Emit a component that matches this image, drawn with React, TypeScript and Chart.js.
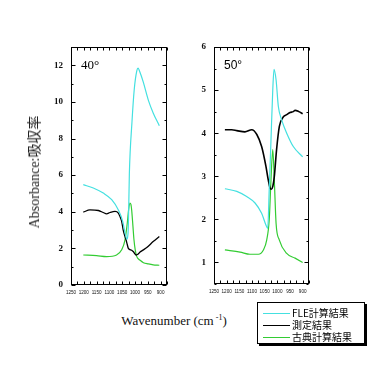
import React, { useEffect, useRef } from "react";
import Chart from "chart.js/auto";

// ---- tick labels ----
const xTickValues = [1250, 1200, 1150, 1100, 1050, 1000, 950, 900];
const leftYTicks = [0, 2, 4, 6, 8, 10, 12];
const rightYTicks = [1, 2, 3, 4, 5, 6];

// ---- series names ----
const seriesNames = ["FLE計算結果", "測定結果", "古典計算結果"];
const panelTitles = ["40°", "50°"];

// ---- 40° panel ----
const leftFleX = [1202, 1163, 1124, 1091, 1065, 1048, 1039, 1032, 1029, 1026, 1022, 1012, 1003, 993, 988, 984, 975, 967, 948, 929, 905];
const leftFleY = [5.48, 5.3, 5.02, 4.66, 4.1, 3.47, 2.85, 2.5, 2.6, 3.2, 6.1, 8.86, 10.68, 11.7, 11.85, 11.75, 11.4, 11.05, 10.1, 9.4, 8.7];
const leftMeasX = [1202, 1176, 1143, 1124, 1111, 1098, 1078, 1065, 1059, 1052, 1046, 1039, 1035, 1030, 1026, 1013, 1007, 995, 987, 980, 967, 954, 929, 905];
const leftMeasY = [3.98, 4.1, 4.07, 3.96, 3.89, 3.96, 4.02, 3.93, 3.75, 3.47, 3.0, 2.65, 2.47, 2.2, 2.0, 1.9, 1.83, 1.64, 1.7, 1.8, 1.92, 2.05, 2.37, 2.65];
const leftClassX = [1202, 1150, 1111, 1072, 1052, 1039, 1030, 1025, 1020, 1016, 1013, 1008, 1004, 999, 993, 980, 967, 948, 929, 905];
const leftClassY = [1.64, 1.6, 1.55, 1.64, 1.92, 2.47, 3.4, 4.1, 4.48, 4.4, 4.1, 3.2, 2.47, 1.9, 1.55, 1.35, 1.22, 1.15, 1.1, 1.08];

// ---- 50° panel ----
const rightFleX = [1207, 1160, 1121, 1088, 1062, 1045, 1038, 1032, 1025, 1018, 1013, 1005, 996, 983, 963, 937, 900];
const rightFleY = [2.71, 2.65, 2.53, 2.38, 2.14, 1.87, 1.79, 2.69, 3.85, 5.01, 5.48, 5.24, 4.62, 4.31, 4.0, 3.69, 3.45];
const rightMeasX = [1207, 1180, 1160, 1128, 1101, 1081, 1062, 1045, 1036, 1029, 1024, 1018, 1012, 1003, 992, 976, 963, 950, 937, 930, 915, 900];
const rightMeasY = [4.08, 4.08, 4.06, 4.03, 4.08, 3.97, 3.69, 3.23, 2.92, 2.73, 2.7, 2.76, 2.99, 3.62, 4.16, 4.38, 4.43, 4.48, 4.5, 4.53, 4.5, 4.45];
const rightClassX = [1207, 1147, 1108, 1075, 1055, 1042, 1032, 1025, 1018, 1012, 1005, 992, 963, 930, 900];
const rightClassY = [1.29, 1.24, 1.19, 1.19, 1.29, 1.52, 1.99, 2.92, 3.62, 2.92, 1.91, 1.52, 1.21, 1.1, 1.0];

const COLORS = ["#44e0e0", "#000000", "#33cc33"];

const zip = (xs: number[], ys: number[]) => xs.map((x, i) => ({ x, y: ys[i] }));

type PanelCfg = {
  series: { x: number[]; y: number[] }[];
  yMin: number;
  yMax: number;
  yTicks: number[];
  yMinorStep: number;
  title: string;
  titleFont: string;
  padding: { top: number; right: number; left: number; bottom: number };
  yWidth: number;
  xHeight: number;
  blackWidth: number;
};

function makeFramePlugin(cfg: PanelCfg) {
  return {
    id: "frameTicks",
    afterDraw(chart: any) {
      const { ctx, chartArea: a } = chart;
      const xs = chart.scales.x;
      const ys = chart.scales.y;
      ctx.save();
      ctx.strokeStyle = "#000";
      ctx.lineWidth = 1;
      const L = Math.round(a.left) + 0.5;
      const R = Math.round(a.right) - 0.5;
      const T = Math.round(a.top) + 0.5;
      const B = Math.round(a.bottom) - 0.5;
      ctx.strokeRect(L, T, R - L, B - T);
      ctx.beginPath();
      for (let v = 875; v <= 1250; v += 25) {
        const p = Math.round(xs.getPixelForValue(v)) + 0.5;
        const len = 3;
        ctx.moveTo(p, B);
        ctx.lineTo(p, B - len);
        ctx.moveTo(p, T);
        ctx.lineTo(p, T + len);
      }
      for (let v = cfg.yMin; v <= cfg.yMax + 1e-6; v += cfg.yMinorStep) {
        const p = Math.round(ys.getPixelForValue(v)) + 0.5;
        const major = cfg.yTicks.some((t) => Math.abs(t - v) < 1e-6);
        const len = major ? 4 : 2;
        ctx.moveTo(L, p);
        ctx.lineTo(L + len, p);
        ctx.moveTo(R, p);
        ctx.lineTo(R - len, p);
      }
      ctx.stroke();
      ctx.fillStyle = "#000";
      ctx.font = cfg.titleFont;
      ctx.textBaseline = "alphabetic";
      ctx.fillText(cfg.title, a.left + 10, a.top + 22);
      ctx.restore();
    },
  };
}

function Panel({ cfg, style }: { cfg: PanelCfg; style: React.CSSProperties }) {
  const ref = useRef<HTMLCanvasElement | null>(null);
  useEffect(() => {
    if (!ref.current) return;
    const chart = new Chart(ref.current, {
      type: "line",
      data: {
        datasets: cfg.series.map((s, i) => ({
          label: seriesNames[i],
          data: zip(s.x, s.y),
          borderColor: COLORS[i],
          borderWidth: i === 1 ? cfg.blackWidth : 1.2,
          pointRadius: 0,
          fill: false,
          cubicInterpolationMode: "monotone" as const,
        })),
      },
      options: {
        animation: false,
        responsive: false,
        events: [],
        layout: { padding: cfg.padding },
        plugins: { legend: { display: false }, tooltip: { enabled: false } },
        scales: {
          x: {
            type: "linear",
            reverse: true,
            min: 875,
            max: 1250,
            grid: { display: false, drawTicks: false },
            border: { display: false },
            afterBuildTicks: (s: any) => {
              s.ticks = xTickValues.map((v) => ({ value: v }));
            },
            afterFit: (s: any) => {
              s.height = cfg.xHeight;
            },
            ticks: {
              autoSkip: false,
              maxRotation: 0,
              minRotation: 0,
              padding: 5,
              color: "#111",
              font: { family: "Liberation Sans", size: 4.6 },
              callback: (v: any) => String(v),
            },
          },
          y: {
            type: "linear",
            min: cfg.yMin,
            max: cfg.yMax,
            grid: { display: false, drawTicks: false },
            border: { display: false },
            afterBuildTicks: (s: any) => {
              s.ticks = cfg.yTicks.map((v) => ({ value: v }));
            },
            afterFit: (s: any) => {
              s.width = cfg.yWidth;
            },
            ticks: {
              padding: 8,
              color: "#111",
              font: { family: "Liberation Serif", size: 9, weight: "bold" },
              callback: (v: any) => String(v),
            },
          },
        },
      },
      plugins: [makeFramePlugin(cfg)],
    } as any);
    return () => chart.destroy();
  }, [cfg]);
  return <canvas ref={ref} width={190} height={300} style={{ position: "absolute", ...style }} />;
}

const leftCfg: PanelCfg = {
  series: [
    { x: leftFleX, y: leftFleY },
    { x: leftMeasX, y: leftMeasY },
    { x: leftClassX, y: leftClassY },
  ],
  yMin: 0,
  yMax: 13,
  yTicks: leftYTicks,
  yMinorStep: 1,
  title: panelTitles[0],
  titleFont: "13px 'Liberation Serif'",
  padding: { top: 47, right: 23, left: 0, bottom: 0 },
  yWidth: 71,
  xHeight: 15,
  blackWidth: 1.3,
};

const rightCfg: PanelCfg = {
  series: [
    { x: rightFleX, y: rightFleY },
    { x: rightMeasX, y: rightMeasY },
    { x: rightClassX, y: rightClassY },
  ],
  yMin: 0.5,
  yMax: 6,
  yTicks: rightYTicks,
  yMinorStep: 0.5,
  title: panelTitles[1],
  titleFont: "12px 'Liberation Sans'",
  padding: { top: 47, right: 56, left: 0, bottom: 0 },
  yWidth: 39,
  xHeight: 16,
  blackWidth: 1.6,
};

export default function App() {
  return (
    <div style={{ position: "fixed", left: 0, top: 0, width: 380, height: 380, background: "#fff", overflow: "hidden" }}>
      <Panel cfg={leftCfg} style={{ left: 0, top: 0 }} />
      <Panel cfg={rightCfg} style={{ left: 175, top: 0 }} />
      <div
        style={{
          position: "absolute",
          left: 33,
          top: 172,
          transform: "translate(-50%, -50%) rotate(-90deg)",
          whiteSpace: "nowrap",
          fontFamily: "'Liberation Serif', 'Noto Sans CJK JP'",
          fontSize: 14,
          fontWeight: "normal",
          color: "#222",
        }}
      >
        Absorbance:吸収率
      </div>
      <div
        style={{
          position: "absolute",
          left: 174,
          top: 321,
          transform: "translate(-50%, -50%)",
          whiteSpace: "nowrap",
          fontFamily: "'Liberation Serif'",
          fontSize: 13,
          color: "#111",
        }}
      >
        Wavenumber (cm<sup style={{ fontSize: 8 }}> -1</sup>)
      </div>
      <div
        style={{
          position: "absolute",
          left: 257,
          top: 302,
          width: 106,
          height: 40,
          border: "1px solid #000",
          boxShadow: "2px 2px 0 #000",
          background: "#fff",
          fontFamily: "'Noto Sans CJK JP'",
          fontSize: 10,
          lineHeight: "12px",
        }}
      >
        {seriesNames.map((n, i) => (
          <div
            key={n}
            style={{
              position: "absolute",
              left: 0,
              top: 4 + i * 12,
              height: 12,
              lineHeight: "12px",
              display: "flex",
              alignItems: "center",
              whiteSpace: "nowrap",
            }}
          >
            <div style={{ marginLeft: 5, width: 27, height: 1, background: COLORS[i] }} />
            <span style={{ marginLeft: 2, color: "#000" }}>{n}</span>
          </div>
        ))}
      </div>
    </div>
  );
}
